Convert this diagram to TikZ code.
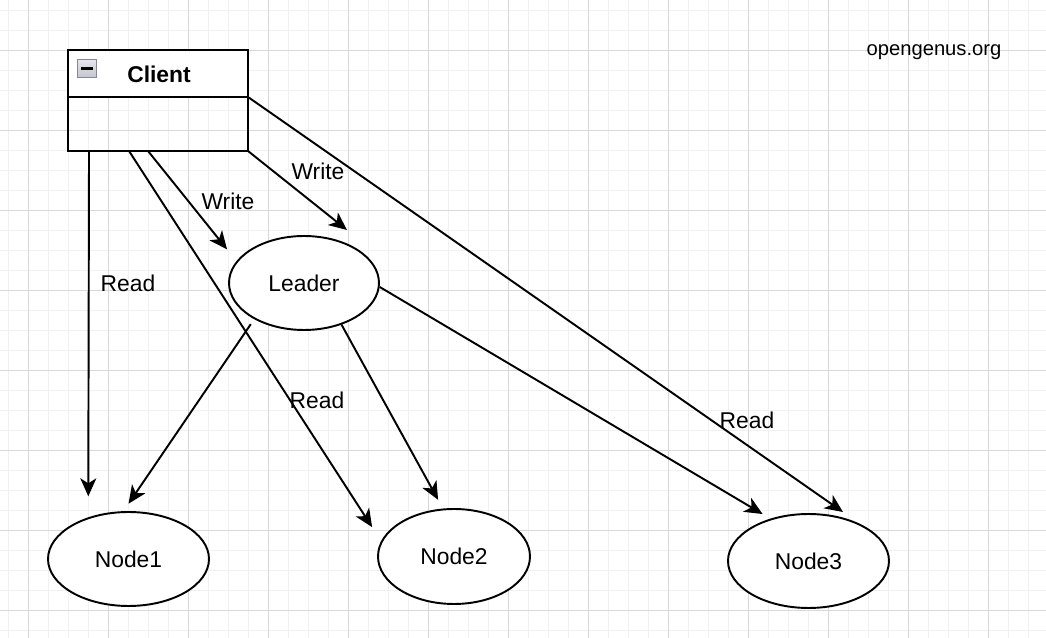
\documentclass[tikz,border=0pt]{standalone}
\usepackage{fontspec}
\setmainfont{Liberation Sans}
\usetikzlibrary{shapes.geometric,arrows.meta}
\definecolor{gridminor}{HTML}{F1F1F1}
\definecolor{gridmajor}{HTML}{D8D8D8}
\definecolor{iconfill}{HTML}{C4C5CF}
\definecolor{iconedge}{HTML}{878896}
\tikzset{
  edgeline/.style={line width=1.1pt, -{Stealth[length=0.36cm, width=0.32cm, inset=0.1cm]}},
  storenode/.style={ellipse, draw, line width=1.1pt, fill=white, inner sep=0pt, minimum height=1.88cm},
  classbox/.style={draw, line width=1.1pt, inner sep=0pt, outer sep=0pt, minimum width=3.6cm, anchor=north},
  lbl/.style={inner sep=0pt}
}

\begin{document}
\begin{tikzpicture}[x=0.02cm, y=-0.02cm, font=\fontsize{13}{15}\selectfont]
    \useasboundingbox (0,0) rectangle (1046,638);
    \fill[white] (0,0) rectangle (1046,638);
    \foreach \gx in {8,28,...,1046} \draw[gridminor, line width=0.5pt] (\gx,0) -- (\gx,638);
    \foreach \gy in {10,30,...,638} \draw[gridminor, line width=0.5pt] (0,\gy) -- (1046,\gy);
    \foreach \gx in {28,108,...,1046} \draw[gridmajor, line width=0.5pt] (\gx,0) -- (\gx,638);
    \foreach \gy in {50,130,...,638} \draw[gridmajor, line width=0.5pt] (0,\gy) -- (1046,\gy);

    \node[classbox, fill=white, minimum height=0.94cm] (clienthead) at (158,50) {};
    \node[classbox, minimum height=1.08cm] (clientbody) at (clienthead.south) {};
    \node[draw=iconedge, top color=white!55!iconfill, bottom color=iconfill, line width=0.6pt,
          minimum width=0.37cm, minimum height=0.35cm, inner sep=0pt] (toggle) at (87,68.5) {};
    \draw[line width=1.3pt] ([xshift=-0.12cm]toggle.center) -- ([xshift=0.12cm]toggle.center);
    \node[lbl, font=\bfseries\fontsize{13}{15}\selectfont] (clientname) at (159,74) {Client};

    \node[lbl, font=\fontsize{11.5}{14}\selectfont] (site) at (934,52) {opengenus.org};

    \node[storenode, minimum width=3cm] (leader) at (304,283) {Leader};
    \node[storenode, minimum width=3.22cm] (node1) at (128.5,559) {Node1};
    \node[storenode, minimum width=3.04cm, minimum height=1.9cm] (node2) at (454,556.5) {Node2};
    \node[storenode, minimum width=3.22cm] (node3) at (808.5,561) {Node3};

    \coordinate (writetip) at (347,230);
    \coordinate (readtip) at (843,512);

    \draw[edgeline, shorten >=0.42cm] ([xshift=0.42cm]clientbody.south west) -- (node1.134);
    \draw[edgeline, shorten >=0.33cm] ([xshift=1.22cm]clientbody.south west) -- (node2.168);
    \draw[edgeline, shorten >=0.3cm] ([xshift=1.6cm]clientbody.south west) -- (leader.162);
    \draw[edgeline] (clientbody.south east) -- (writetip);
    \draw[edgeline] (clientbody.north east) -- (readtip);

    \draw[edgeline, shorten <=0.12cm, shorten >=0.18cm] (leader.216) -- (node1.96);
    \draw[edgeline, shorten >=0.2cm] (leader.-48) -- (node2.103);
    \draw[edgeline, shorten >=0.18cm] (leader.-3) -- (node3.132);

    \node[lbl] (readone) at (128,283) {Read};
    \node[lbl] (readtwo) at (317,400) {Read};
    \node[lbl] (readthree) at (747,420) {Read};
    \node[lbl] (writeone) at (228,201) {Write};
    \node[lbl] (writetwo) at (318,171) {Write};
  \end{tikzpicture}
\end{document}
